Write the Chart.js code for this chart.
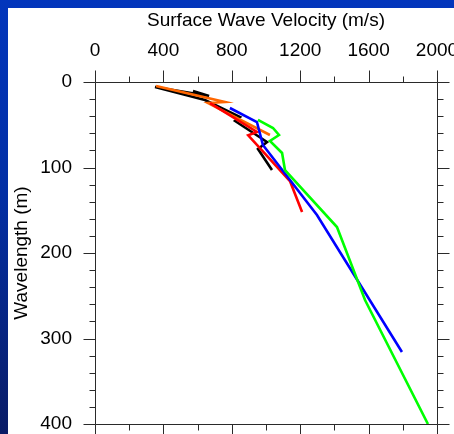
<!DOCTYPE html>
<html>
<head>
<meta charset="utf-8">
<script src="https://cdn.jsdelivr.net/npm/chart.js@4.4.0/dist/chart.umd.min.js"></script>
<style>
    html, body { margin: 0; padding: 0; }
    body {
        width: 454px;
        height: 434px;
        overflow: hidden;
        position: relative;
        background: linear-gradient(to bottom, #0336bc 0%, #032fa4 45%, #0a1c66 100%);
    }
    #panel {
        position: absolute;
        left: 8px;
        top: 8px;
        width: 446px;
        height: 426px;
        background: #ffffff;
    }
    canvas { display: block; }
</style>
</head>
<body>
<div id="panel"><canvas id="dispersionChart" width="446" height="426"></canvas></div>
<script>
// velocity (m/s) / wavelength (m) pairs for each dispersion curve
const blackVelocity = [573, 667, 351, 643, 848, 819, 1006, 953, 1035];
const blackWavelength = [10.5, 16.4, 5.8, 21.1, 40.9, 45.6, 70.2, 78.4, 102.9];

const orangeVelocity = [357, 760, 661, 1023];
const orangeWavelength = [4.7, 23.4, 24.6, 62.0];

const redVelocity = [673, 947, 896, 1140, 1211];
const redWavelength = [24.6, 58.5, 62.3, 115.8, 152];

const blueVelocity = [789, 947, 982, 1298, 1795];
const blueWavelength = [30.4, 46.8, 73.7, 155.6, 315.8];

const greenVelocity = [953, 1041, 1076, 1023, 1094, 1111, 1415, 1579, 1947];
const greenWavelength = [44.4, 53.8, 62.0, 69.0, 83.0, 103.0, 169.6, 255, 400];

const velocityTicks = [0, 400, 800, 1200, 1600, 2000];
const wavelengthTicks = [0, 100, 200, 300, 400];
const velocityMinorStep = 200;
const wavelengthMinorStep = 20;

const fontFamily = '"Liberation Sans", Arial, Helvetica, sans-serif';

function toPoints(xs, ys) {
    return xs.map((v, i) => ({ x: v, y: ys[i] }));
}

function curve(label, xs, ys, color, order) {
    return {
        label: label,
        data: toPoints(xs, ys),
        showLine: true,
        borderColor: color,
        backgroundColor: color,
        borderWidth: 2.6,
        pointRadius: 0,
        tension: 0,
        order: order
    };
}

// box frame with outward major/minor ticks on all four sides
const frameTicks = {
    id: 'frameTicks',
    afterDraw(chart) {
        const { ctx, chartArea: a, scales: { x, y } } = chart;
        const xMin = velocityTicks[0], xMax = velocityTicks[velocityTicks.length - 1];
        const yMin = wavelengthTicks[0], yMax = wavelengthTicks[wavelengthTicks.length - 1];
        const left = Math.round(a.left) + 0.5, right = Math.round(a.right) + 0.5;
        const top = Math.round(a.top) + 0.5, bottom = Math.round(a.bottom) + 0.5;

        ctx.save();
        ctx.strokeStyle = '#2a2a2a';
        ctx.lineWidth = 1;
        ctx.beginPath();
        ctx.rect(left, top, right - left, bottom - top);

        for (let v = xMin; v <= xMax; v += velocityMinorStep) {
            const px = Math.round(x.getPixelForValue(v)) + 0.5;
            const len = velocityTicks.includes(v) ? 12 : 6;
            ctx.moveTo(px, top); ctx.lineTo(px, top - len);
            ctx.moveTo(px, bottom); ctx.lineTo(px, bottom + len);
        }
        for (let w = yMin; w <= yMax; w += wavelengthMinorStep) {
            const py = Math.round(y.getPixelForValue(w)) + 0.5;
            const len = wavelengthTicks.includes(w) ? 12 : 6;
            ctx.moveTo(left, py); ctx.lineTo(left - len, py);
            ctx.moveTo(right, py); ctx.lineTo(right + len, py);
        }
        ctx.stroke();
        ctx.restore();
    }
};

const ctx = document.getElementById('dispersionChart').getContext('2d');
new Chart(ctx, {
    type: 'scatter',
    data: {
        datasets: [
            curve('Black', blackVelocity, blackWavelength, '#000000', 5),
            curve('Orange', orangeVelocity, orangeWavelength, '#ff6600', 4),
            curve('Red', redVelocity, redWavelength, '#ff0000', 3),
            curve('Blue', blueVelocity, blueWavelength, '#0000ff', 2),
            curve('Green', greenVelocity, greenWavelength, '#00ff00', 1)
        ]
    },
    options: {
        responsive: false,
        animation: false,
        devicePixelRatio: 1,
        layout: {
            padding: { left: 0, top: 0, right: 17, bottom: 10 }
        },
        plugins: {
            legend: { display: false },
            tooltip: { enabled: false }
        },
        scales: {
            x: {
                type: 'linear',
                position: 'top',
                min: velocityTicks[0],
                max: velocityTicks[velocityTicks.length - 1],
                afterBuildTicks: (scale) => {
                    scale.ticks = velocityTicks.map(v => ({ value: v }));
                },
                ticks: {
                    color: '#000000',
                    padding: 20,
                    maxRotation: 0,
                    autoSkip: false,
                    font: { family: fontFamily, size: 19 },
                    callback: (value) => String(value)
                },
                grid: { display: false, drawTicks: false },
                border: { display: false },
                title: {
                    display: true,
                    text: 'Surface Wave Velocity (m/s)',
                    color: '#000000',
                    font: { family: fontFamily, size: 19 },
                    padding: { top: 1, bottom: 0 }
                },
                afterFit: (scale) => {
                    scale.height = 74;
                    scale.paddingLeft = 0;
                    scale.paddingRight = 0;
                }
            },
            y: {
                type: 'linear',
                reverse: true,
                min: wavelengthTicks[0],
                max: wavelengthTicks[wavelengthTicks.length - 1],
                afterBuildTicks: (scale) => {
                    scale.ticks = wavelengthTicks.map(v => ({ value: v }));
                },
                ticks: {
                    color: '#000000',
                    padding: 23,
                    autoSkip: false,
                    font: { family: fontFamily, size: 19 },
                    callback: (value) => String(value)
                },
                grid: { display: false, drawTicks: false },
                border: { display: false },
                title: {
                    display: true,
                    text: 'Wavelength (m)',
                    color: '#000000',
                    font: { family: fontFamily, size: 19 },
                    padding: { top: 2, bottom: 0 }
                },
                afterFit: (scale) => {
                    scale.width = 87;
                    scale.paddingTop = 0;
                    scale.paddingBottom = 0;
                }
            }
        }
    },
    plugins: [frameTicks]
});
</script>
</body>
</html>
